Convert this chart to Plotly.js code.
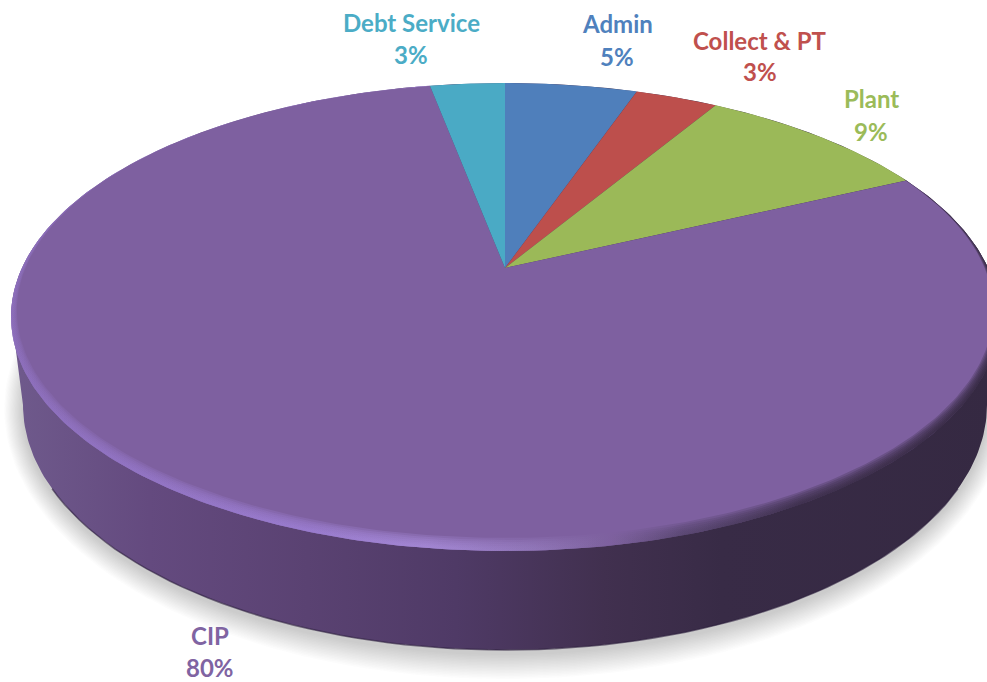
<!DOCTYPE html>
<html><head><meta charset="utf-8">
<script src="https://cdn.plot.ly/plotly-3.0.1.min.js"></script>
<style>html,body{margin:0;padding:0;background:#fff}#c{width:987px;height:682px}</style>
</head><body><div id="c"></div>
<script>
// Data, clockwise from twelve o'clock
const categories = ['Admin', 'Collect & PT', 'Plant', 'CIP', 'Debt Service'];
const values = [5.3, 3.3, 9.4, 79.0, 3.0];
const percentLabels = ['5%', '3%', '9%', '80%', '3%'];

// Styles
const sliceColors = ['#4f7fbb', '#bd4f4c', '#9bb958', '#7e60a0', '#4aaac5'];
const labelColors = ['#4f81bd', '#c0504d', '#9bbb59', '#8064a2', '#4bacc6'];
const labelX = [617, 760, 871, 210, 411];
const nameY = [23, 40, 98, 635, 22];
const percentY = [56, 71, 131, 667, 54];

// Projection of the pie disc (perspective)
const W = 987, H = 682;
const apex = {x: 505, y: 268};
const face = {cx: 505, cy: 317, rx: 494, ry: 234};
const base = {cx: 505, cy: 405, rx: 482, ry: 245};
const k = -0.209, A = 223.7, B = 483;
const rad = d => d * Math.PI / 180;
function project(deg) {
  const t = rad(deg), w = 1 + k * (-Math.cos(t));
  return [apex.x + B * Math.sin(t) / w, apex.y - A * Math.cos(t) / w];
}
function range(a, b, step) {
  const out = [];
  const n = Math.max(2, Math.ceil(Math.abs(b - a) / step));
  for (let i = 0; i <= n; i++) out.push(a + (b - a) * i / n);
  return out;
}
const total = values.reduce((s, v) => s + v, 0);
let cursor = 0;
const edges = values.map(v => {
  const e = [cursor * 360 / total, (cursor + v) * 360 / total];
  cursor += v;
  return e;
});
const traces = [];
const ell = (e, deg) => [e.cx + e.rx * Math.sin(rad(deg)), e.cy - e.ry * Math.cos(rad(deg))];
function poly(pts, extra) {
  traces.push(Object.assign({
    type: 'scatter', mode: 'lines', x: pts.map(p => p[0]), y: pts.map(p => p[1]),
    fill: 'toself', line: {width: 0}, hoverinfo: 'skip', showlegend: false
  }, extra));
}

// Soft shadow under the disc
for (let d = 25; d >= 1; d -= 1.5) {
  const e = {cx: base.cx, cy: base.cy + 4, rx: base.rx + d * 0.75, ry: base.ry + d};
  poly(range(0, 360, 2).map(a => ell(e, a)), {fillcolor: 'rgba(110,110,110,0.018)'});
}

// Side wall with horizontal shading
const wall = range(90, 270, 1).map(a => ell(base, a))
  .concat(range(270, 450, 1).map(a => ell(face, a)));
poly(wall, {
  fillcolor: '#5a4270',
  fillgradient: {
    type: 'horizontal', start: 11, stop: 999,
    colorscale: [[0, '#6f5a8c'], [0.14, '#644a7f'], [0.3, '#5a4272'], [0.45, '#4f3a66'],
                 [0.6, '#41304f'], [0.72, '#382b46'], [1, '#352942']]
  }
});
traces.push({type: 'scatter', mode: 'lines', hoverinfo: 'skip', showlegend: false,
  x: range(110, 250, 2).map(a => ell(base, a)[0]), y: range(110, 250, 2).map(a => ell(base, a)[1]),
  line: {color: 'rgba(45,32,62,0.6)', width: 1.5}});

// Slices
values.forEach((v, i) => {
  const pts = [[apex.x, apex.y]]
    .concat(range(edges[i][0], edges[i][1], 0.5).map(project));
  poly(pts, {name: categories[i], fillcolor: sliceColors[i]});
});

// Bevelled rim on the CIP slice
const cip = edges[categories.indexOf('CIP')];
const toPhi = deg => {
  const p = project(deg);
  let phi = Math.atan2((p[0] - face.cx) / face.rx, -(p[1] - face.cy) / face.ry) * 180 / Math.PI;
  return phi < 0 ? phi + 360 : phi;
};
const phiA = toPhi(cip[0]), phiB = toPhi(cip[1]);
const rimScale = [[0, 'rgba(142,112,190,A)'], [0.3, 'rgba(156,126,210,A)'], [0.42, 'rgba(166,138,216,A)'],
                  [0.53, 'rgba(146,120,186,A)'], [0.61, 'rgba(124,96,156,A)'], [0.68, 'rgba(88,70,112,A)'],
                  [0.8, 'rgba(58,45,72,A)'], [1, 'rgba(52,40,64,A)']];
[13, 11, 9, 7, 5, 3.5, 2].forEach(d => {
  const inner = {cx: face.cx, cy: face.cy - d / 2, rx: face.rx - d * 0.45, ry: face.ry - d / 2};
  const arc = range(phiA, phiB, 1);
  const pts = arc.map(a => ell(face, a)).concat(arc.slice().reverse().map(a => ell(inner, a)));
  poly(pts, {
    fillcolor: 'rgba(126,96,160,0.3)',
    fillgradient: {type: 'horizontal', start: 11, stop: 999,
      colorscale: rimScale.map(s => [s[0], s[1].replace('A', '0.28')])}
  });
});

const labelFont = i => ({family: 'Lato, "Open Sans", sans-serif', size: 24, color: labelColors[i], weight: 700});
const annotations = [];
categories.forEach((c, i) => {
  annotations.push({x: labelX[i], y: nameY[i], xref: 'x', yref: 'y', showarrow: false, text: c, font: labelFont(i)});
  annotations.push({x: labelX[i], y: percentY[i], xref: 'x', yref: 'y', showarrow: false, text: percentLabels[i], font: labelFont(i)});
});

Plotly.newPlot('c', traces, {
  width: W, height: H, margin: {l: 0, r: 0, t: 0, b: 0},
  paper_bgcolor: '#fff', plot_bgcolor: '#fff', showlegend: false,
  xaxis: {range: [0, W], visible: false, fixedrange: true},
  yaxis: {range: [H, 0], visible: false, fixedrange: true},
  annotations
}, {displayModeBar: false, staticPlot: true});
</script></body></html>
